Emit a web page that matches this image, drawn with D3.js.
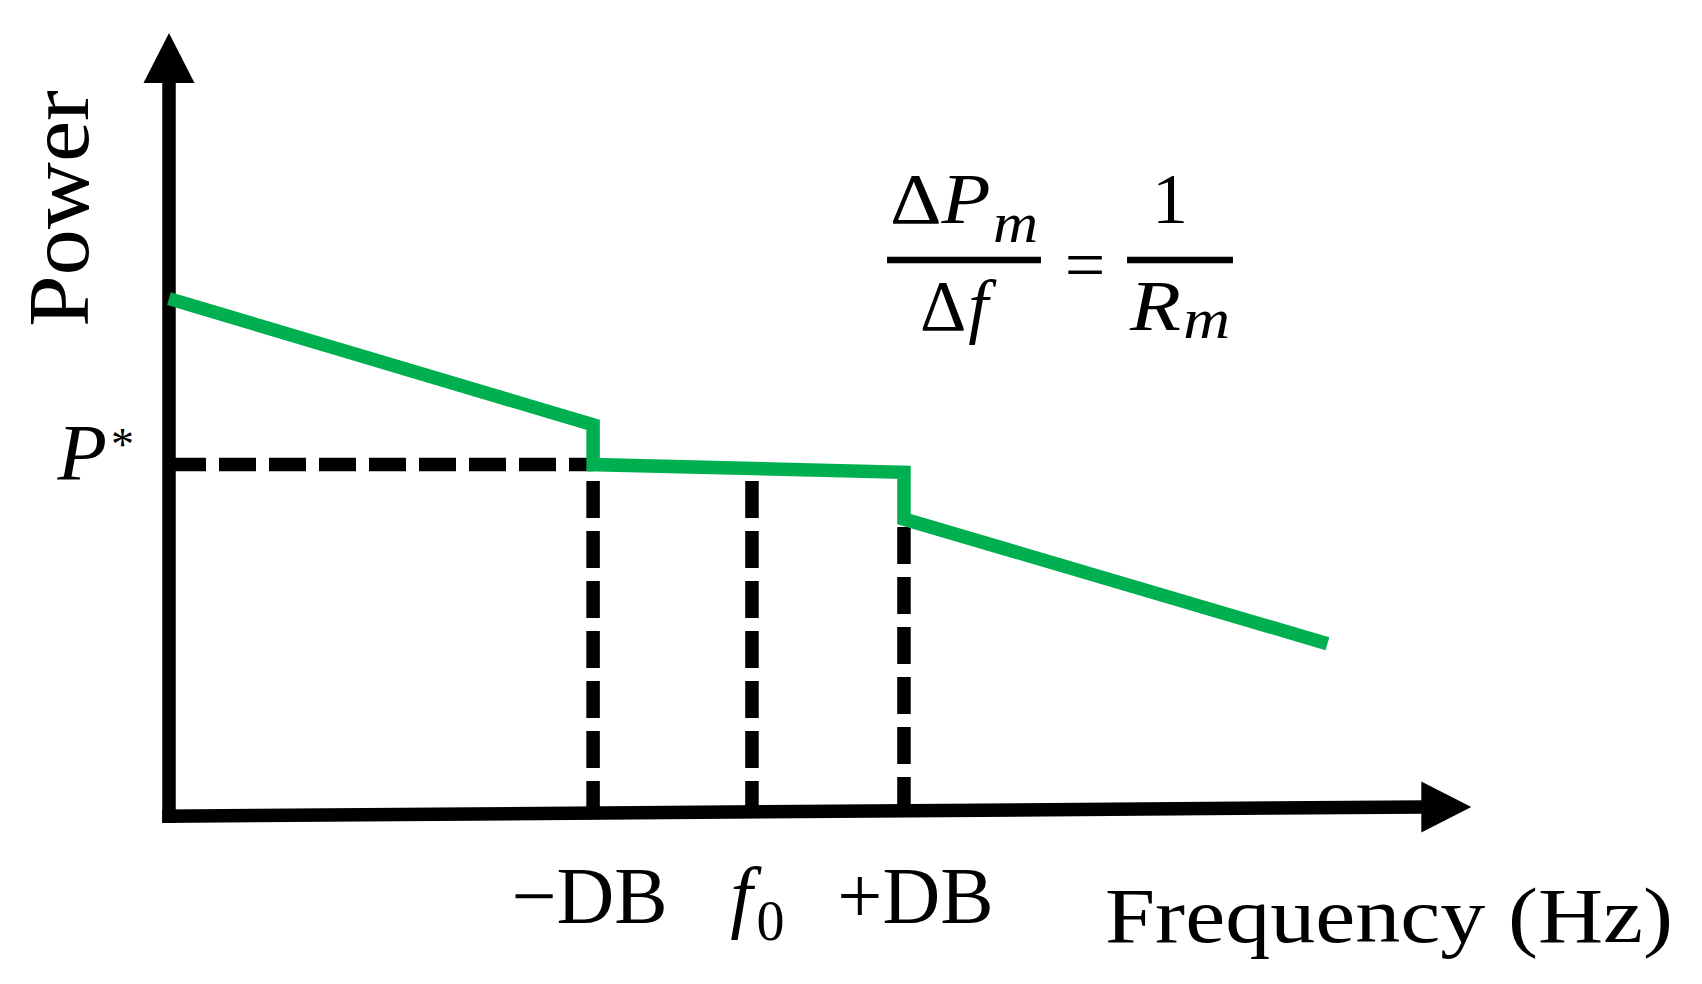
<!DOCTYPE html>
<html><head><meta charset="utf-8">
<script src="https://cdn.jsdelivr.net/npm/d3@7"></script>
<style>
body{margin:0;background:#fff}
svg{display:block}
text{font-family:"Liberation Serif","Times New Roman",serif;fill:#000}
</style>
</head><body>
<script>
// ---- data (frequency / power in arbitrary units) ----
const freqTicks   = [33.9, 46.6, 58.75];          // -DB, f0, +DB
const tickLabels  = ["\u2212DB", "f0", "+DB"];
const curveFreq   = [0, 33.9, 33.9, 58.75, 58.75, 92.6];
const curvePower  = [65.9, 49.7, 44.6, 43.6, 37.6, 21.6];
const pStar       = 44.6;
const dashTops    = [42.5, 42.5, 36.6];           // where the vertical dashed guides start
const freqMax     = 104.1;                         // x-axis arrow tip
const powerMax    = 100;                           // y-axis arrow tip
const xAxisTilt   = [-0.55, 0.65];                 // power level of x-axis line at its two ends

// ---- layout ----
const W = 1702, H = 984;
const SW = 13.5;
const GREEN = "#00B050";
const labelNudge = [-4, 5, 11];

const svg = d3.select("body").append("svg").attr("width", W).attr("height", H);

const x = d3.scaleLinear().domain([0, 100]).range([169, 1420]);
const y = d3.scaleLinear().domain([0, 100]).range([812, 33]);

// ---- axes lines with arrowheads ----
const xa0 = y(xAxisTilt[0]), xa1 = y(xAxisTilt[1]);
const arrowLen = 50, arrowHalf = 25.5;
const xTip = x(freqMax);
svg.append("line")
  .attr("x1", x(0) - SW/2).attr("y1", xa0)
  .attr("x2", xTip - arrowLen + 4).attr("y2", xa1)
  .attr("stroke", "#000").attr("stroke-width", SW);
svg.append("path")
  .attr("d", `M${xTip},${xa1} L${xTip-arrowLen},${xa1-arrowHalf} L${xTip-arrowLen},${xa1+arrowHalf} Z`)
  .attr("fill", "#000");

const yTip = y(powerMax);
svg.append("line")
  .attr("x1", x(0)).attr("y1", yTip + arrowLen - 4)
  .attr("x2", x(0)).attr("y2", xa0 + SW/2)
  .attr("stroke", "#000").attr("stroke-width", SW);
svg.append("path")
  .attr("d", `M${x(0)},${yTip} L${x(0)-arrowHalf},${yTip+arrowLen} L${x(0)+arrowHalf},${yTip+arrowLen} Z`)
  .attr("fill", "#000");

// ---- dashed guides ----
svg.append("line")
  .attr("x1", x(0)).attr("y1", y(pStar))
  .attr("x2", x(freqTicks[0])).attr("y2", y(pStar))
  .attr("stroke", "#000").attr("stroke-width", SW)
  .attr("stroke-dasharray", "37,13");

svg.selectAll("line.vguide").data(freqTicks).join("line")
  .attr("class", "vguide")
  .attr("x1", d => x(d)).attr("x2", d => x(d))
  .attr("y1", (d, i) => y(dashTops[i]))
  .attr("y2", y(0))
  .attr("stroke", "#000").attr("stroke-width", SW)
  .attr("stroke-dasharray", "37,13");

// ---- green droop curve ----
const pts = curveFreq.map((f, i) => [f, curvePower[i]]);
svg.append("path")
  .attr("d", d3.line().x(d => x(d[0])).y(d => y(d[1]))(pts))
  .attr("fill", "none").attr("stroke", GREEN).attr("stroke-width", SW)
  .attr("stroke-linejoin", "miter").attr("stroke-linecap", "butt");

// ---- x tick labels via axis ----
const gx = svg.append("g").attr("transform", "translate(0,923)")
  .call(d3.axisBottom(x).tickValues(freqTicks).tickSize(0).tickFormat((d, i) => tickLabels[i]));
gx.select(".domain").remove();
gx.selectAll(".tick text")
  .attr("y", 0).attr("dy", 0)
  .attr("x", (d, i) => labelNudge[i])
  .attr("font-size", 80)
  .style("font-family", '"Liberation Serif","Times New Roman",serif')
  .each(function(d, i) {
    if (tickLabels[i] === "f0") {
      const t = d3.select(this).text("");
      t.append("tspan").attr("font-style", "italic").text("f");
      t.append("tspan").attr("font-size", 56).attr("dx", 4).attr("dy", 17).text("0");
    }
  });

// ---- y tick label P* via axis ----
const gy = svg.append("g").attr("transform", "translate(134,0)")
  .call(d3.axisLeft(y).tickValues([pStar]).tickSize(0).tickFormat(() => ""));
gy.select(".domain").remove();
gy.selectAll(".tick text").each(function() {
  const t = d3.select(this).attr("x", 0).attr("dy", 14.5)
    .attr("font-size", 81).attr("text-anchor", "end")
    .style("font-family", '"Liberation Serif","Times New Roman",serif');
  t.append("tspan").attr("font-style", "italic").text("P");
  t.append("tspan").attr("font-size", 46).attr("dy", -20).attr("dx", 4).text("*");
});

// ---- axis titles ----
svg.append("text")
  .attr("transform", "translate(88,208.5) rotate(-90)")
  .attr("text-anchor", "middle").attr("font-size", 87)
  .attr("textLength", 237).attr("lengthAdjust", "spacingAndGlyphs")
  .text("Power");

svg.append("text")
  .attr("x", 1105).attr("y", 942).attr("font-size", 79)
  .attr("textLength", 568).attr("lengthAdjust", "spacingAndGlyphs")
  .text("Frequency (Hz)");

// ---- formula ----
const f1 = svg.append("text").attr("x", 890).attr("y", 223).attr("font-size", 72)
  .attr("textLength", 148).attr("lengthAdjust", "spacingAndGlyphs");
f1.append("tspan").text("\u0394");
f1.append("tspan").attr("font-style", "italic").text("P");
f1.append("tspan").attr("font-style", "italic").attr("font-size", 56).attr("dy", 19).attr("dx", 2).text("m");

svg.append("line").attr("x1", 887).attr("x2", 1041).attr("y1", 260).attr("y2", 260)
  .attr("stroke", "#000").attr("stroke-width", 6.5);

const f2 = svg.append("text").attr("x", 920).attr("y", 330).attr("font-size", 72);
f2.append("tspan").text("\u0394");
f2.append("tspan").attr("font-style", "italic").attr("dx", 2).text("f");

svg.append("text").attr("x", 1085).attr("y", 289).attr("font-size", 72)
  .attr("text-anchor", "middle").text("=");

svg.append("text").attr("x", 1170).attr("y", 223).attr("font-size", 72)
  .attr("text-anchor", "middle").text("1");

svg.append("line").attr("x1", 1127).attr("x2", 1233).attr("y1", 260).attr("y2", 260)
  .attr("stroke", "#000").attr("stroke-width", 6.5);

const f3 = svg.append("text").attr("x", 1130).attr("y", 330).attr("font-size", 72)
  .attr("textLength", 100).attr("lengthAdjust", "spacingAndGlyphs");
f3.append("tspan").attr("font-style", "italic").text("R");
f3.append("tspan").attr("font-style", "italic").attr("font-size", 56).attr("dy", 8).attr("dx", 2).text("m");
</script>
</body></html>
